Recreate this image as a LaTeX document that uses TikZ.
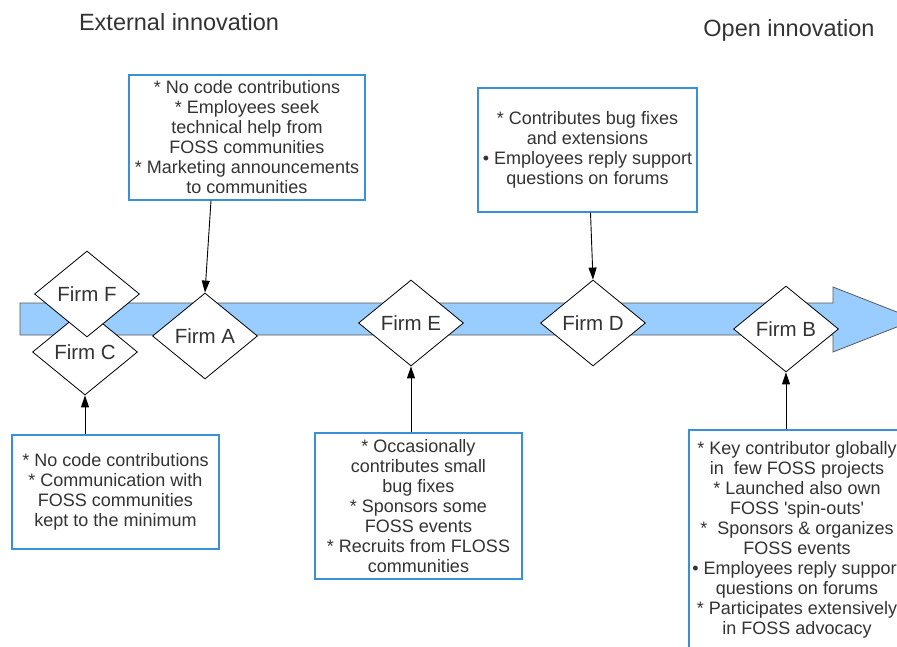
\documentclass[tikz,border=0pt]{standalone}
\usepackage{fontspec}
\setmainfont{Liberation Sans}
\usetikzlibrary{shapes, arrows.meta, calc}
\definecolor{bandColor}{HTML}{99CCFF}
\definecolor{noteColor}{HTML}{3A90D8}
\definecolor{textColor}{HTML}{333333}
\colorlet{bandLine}{black!65}
\tikzstyle{title}=[text=textColor, font=\fontsize{23.5}{28}\selectfont]
\tikzstyle{band}=[fill=bandColor, draw=bandLine, line width=0.8pt]
\tikzstyle{firm}=[diamond, draw=black, fill=white, line width=0.8pt, minimum width=105pt, minimum height=86pt, inner sep=0pt, text=textColor, font=\fontsize{20.5}{24}\selectfont]
\tikzstyle{note}=[draw=noteColor, line width=1.3pt, fill=white, align=center, inner sep=0pt, text=textColor, font=\fontsize{18}{20}\selectfont]
\tikzstyle{arrow}=[-{Triangle[length=12pt, width=8pt]}, line width=0.9pt, draw=black]

\begin{document}
\begin{tikzpicture}[x=1pt, y=-1pt]
  \useasboundingbox (0,0) rectangle (897,647);
  \node (external) [title] at (179,22) {External innovation};
  \node (open) [title] at (789,30) {Open innovation};
  % the time line
  \draw [band] (20,303) -- (833,303) -- (833,287) -- (916,319.5)
    -- (833,352) -- (833,335) -- (20,335) -- cycle;
  % firms
  \node (firmC) [firm] at (85,352) {Firm C};
  \node (firmF) [firm] at (87,294) {Firm F};
  \node (firmA) [firm] at (205,336) {Firm A};
  \node (firmE) [firm] at (411,323) {Firm E};
  \node (firmD) [firm] at (593,323) {Firm D};
  \node (firmB) [firm] at (786,329) {Firm B};
  % notes
  \node (noteA) [note, minimum width=236pt, minimum height=125pt] at (247,137.5)
    {* No code contributions\\ * Employees seek\\ technical help from\\
     FOSS communities\\ * Marketing announcements\\ to communities};
  \node (noteD) [note, minimum width=219pt, minimum height=124pt] at (587.5,150)
    {* Contributes bug fixes\\ and extensions\\ • Employees reply support\\
     questions on forums};
  \node (noteC) [note, minimum width=207pt, minimum height=114pt] at (115.5,492)
    {* No code contributions\\ * Communication with\\ FOSS communities\\
     kept to the minimum};
  \node (noteE) [note, minimum width=207pt, minimum height=146pt] at (418.5,506)
    {* Occasionally\\ contributes small\\ bug fixes\\ * Sponsors some\\
     FOSS events\\ * Recruits from FLOSS\\ communities};
  \node (noteB) [note, minimum width=216pt, minimum height=220pt] at (797,540)
    {* Key contributor globally\\ in\ \ few FOSS projects\\ * Launched also own\\
     FOSS \textquotesingle spin-outs\textquotesingle\\ *\ \ Sponsors \& organizes\\
     FOSS events\\ • Employees reply support\\ questions on forums\\
     * Participates extensively\\ in FOSS advocacy};
  % links
  \draw [arrow] ([xshift=-36pt]noteA.south) -- (firmA.north);
  \draw [arrow] ([xshift=3pt]noteD.south) -- (firmD.north);
  \draw [arrow] ([xshift=-30.5pt]noteC.north) -- (firmC.south);
  \draw [arrow] ([xshift=-7.5pt]noteE.north) -- (firmE.south);
  \draw [arrow] ([xshift=-11pt]noteB.north) -- (firmB.south);
\end{tikzpicture}
\end{document}
